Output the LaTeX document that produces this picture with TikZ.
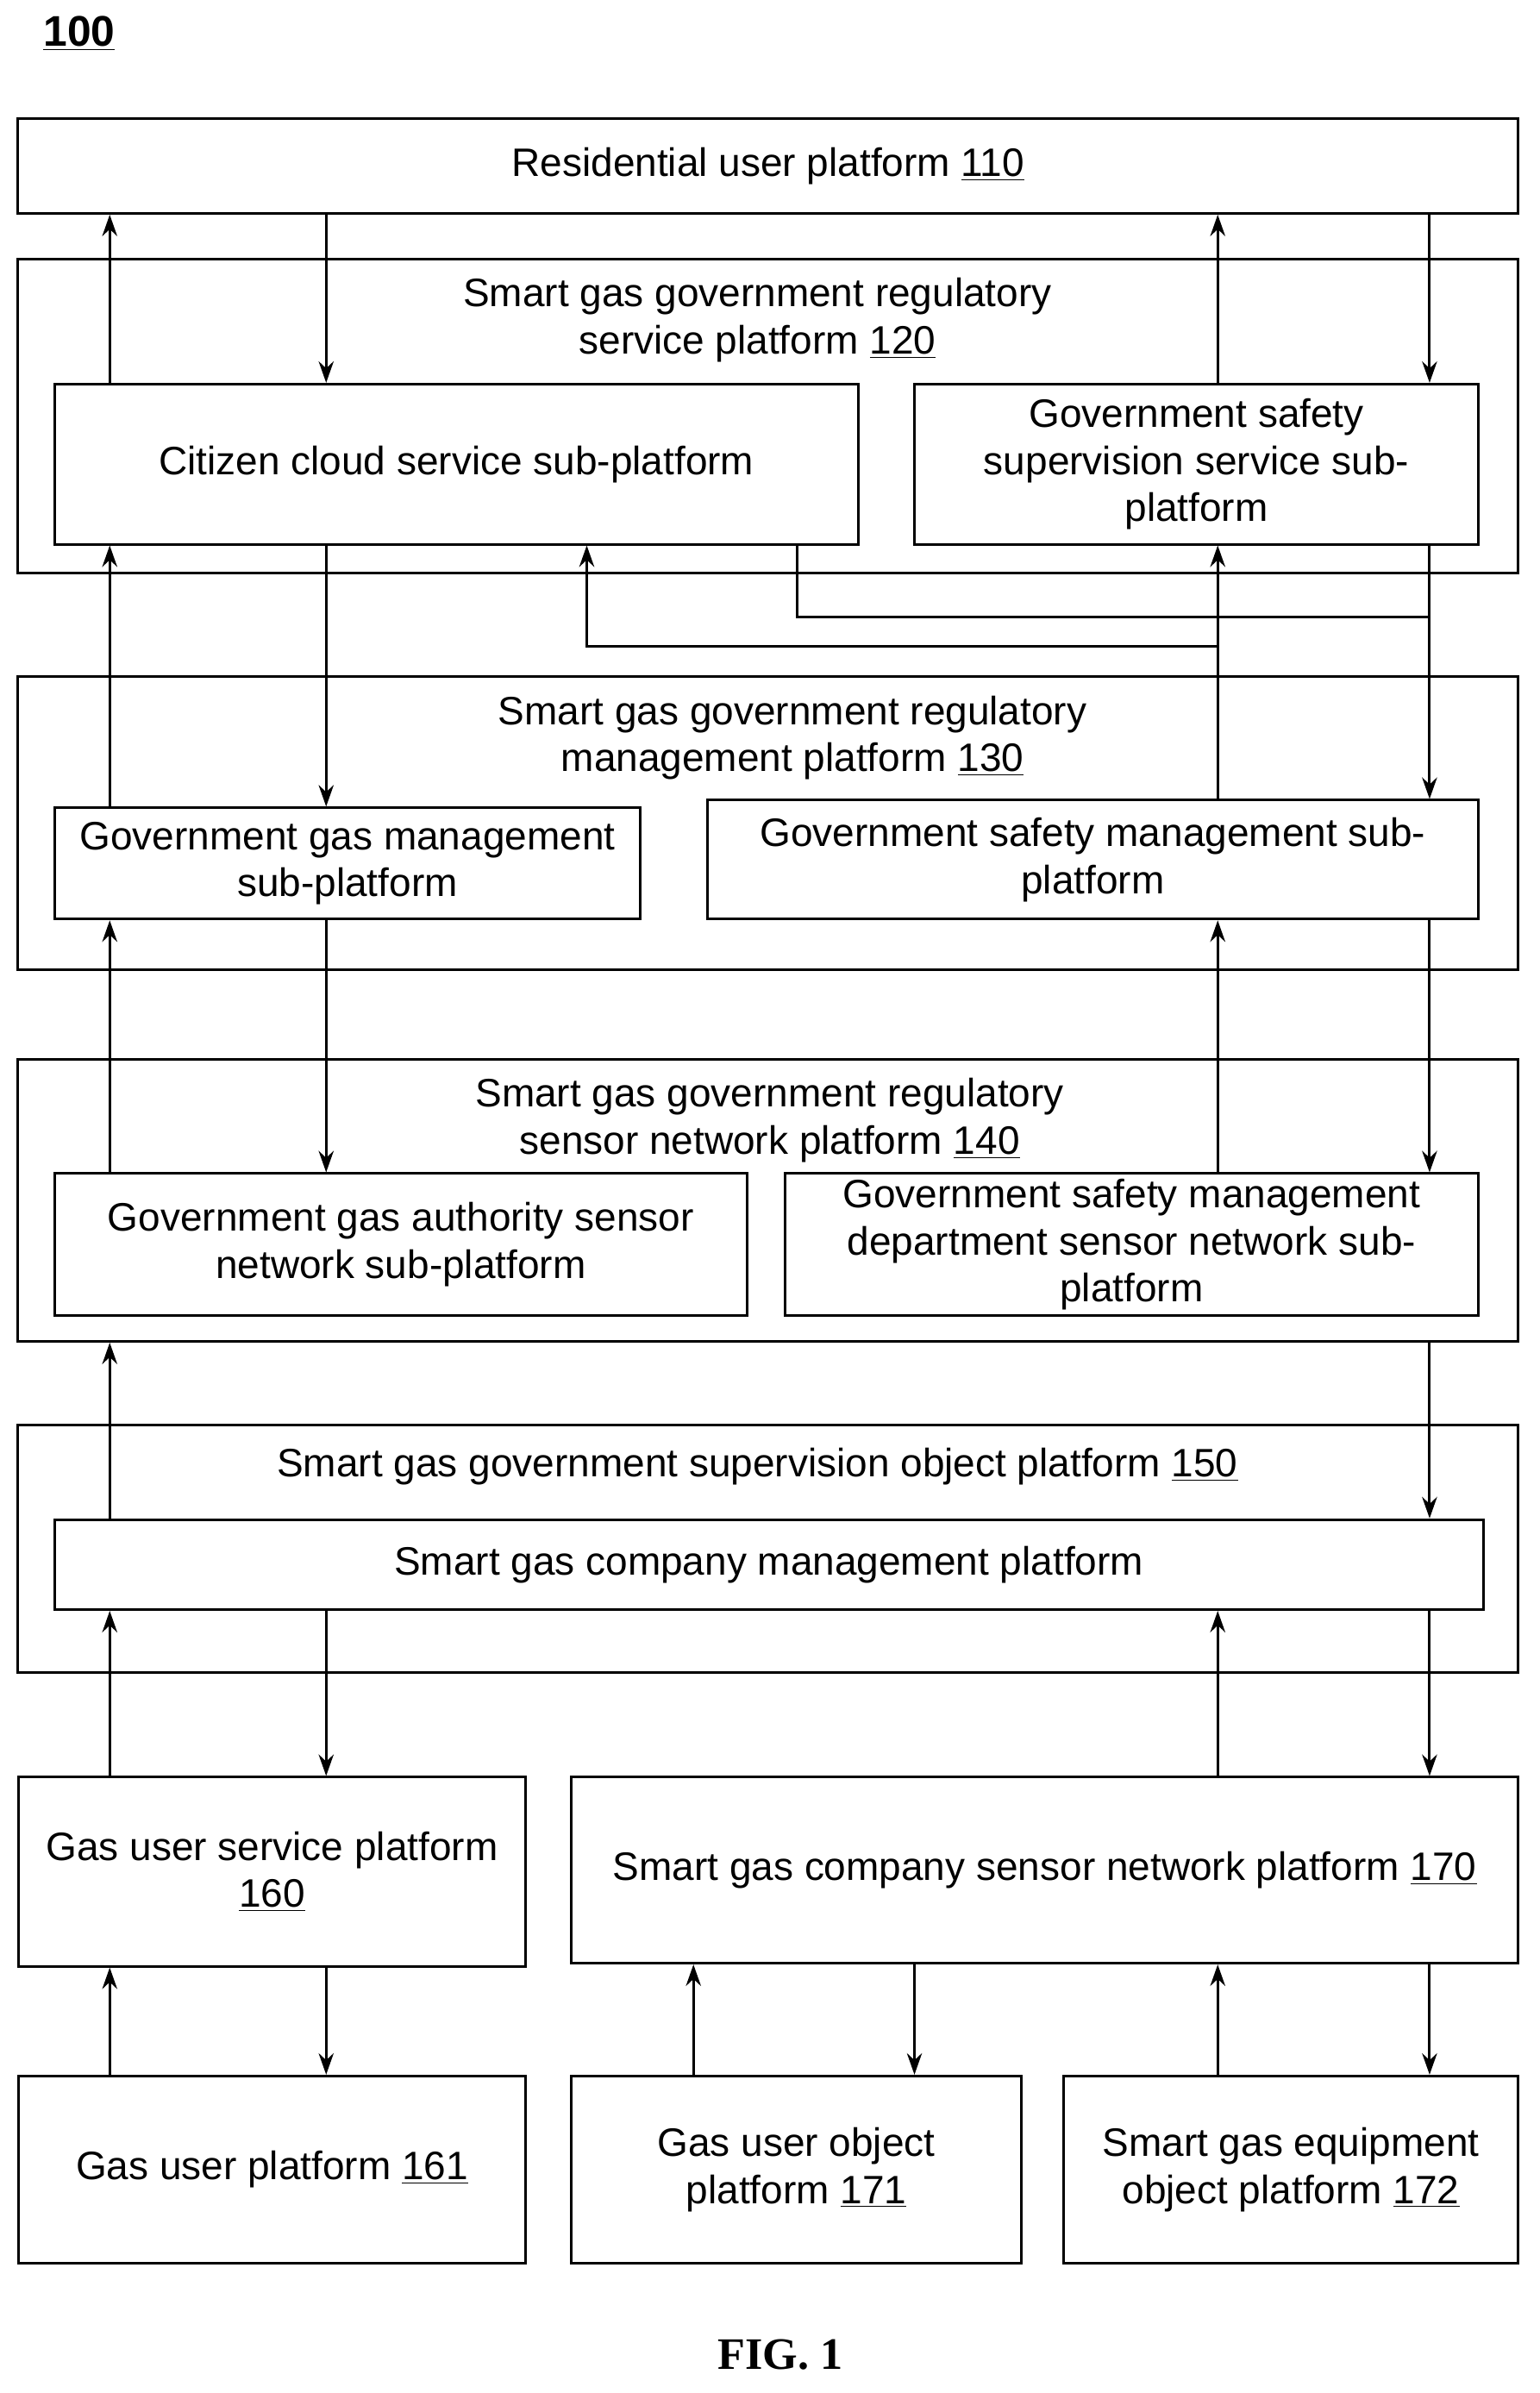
\documentclass[tikz,border=0pt]{standalone}
\usepackage{fontspec}
\setmainfont{Liberation Sans}
\usetikzlibrary{arrows.meta,calc,positioning}
\begin{document}
\begin{tikzpicture}[x=0.025cm,y=-0.025cm,>={Stealth[length=10pt,width=7pt]},
  font=\fontsize{18.5}{22}\selectfont,
  box/.style={draw,line width=1.2pt,align=center,inner sep=0pt},
  flow/.style={->,line width=1.2pt}]
  \useasboundingbox (0,0) rectangle (1010,1570);

  \node[font=\fontsize{20}{22}\selectfont\bfseries] (fignum) at (52,22) {\underline{100}};

  % platforms and sub-platforms
  \node[box,minimum width=24.6cm,minimum height=1.55cm] (p110) at (504,109) {Residential user platform \underline{110}};
  \node[box,minimum width=24.6cm,minimum height=5.15cm] (p120) at (504,273) {};
  \node (t120) at (497,210) [align=center] {Smart gas government regulatory\\service platform \underline{120}};
  \node[box,minimum width=13.175cm,minimum height=2.625cm] (citizen) at (299.5,304.5) {Citizen cloud service sub-platform};
  \node[box,minimum width=9.25cm,minimum height=2.625cm] (safesup) at (785,304.5) {Government safety\\supervision service sub-\\platform};

  \node[box,minimum width=24.6cm,minimum height=4.8cm] (p130) at (504,540) {};
  \node (t130) at (520,484) [align=center] {Smart gas government regulatory\\management platform \underline{130}};
  \node[box,minimum width=9.6cm,minimum height=1.825cm] (gasmgmt) at (228,566.5) {Government gas management\\sub-platform};
  \node[box,minimum width=12.65cm,minimum height=1.95cm] (safemgmt) at (717,564) {Government safety management sub-\\platform};

  \node[box,minimum width=24.6cm,minimum height=4.625cm] (p140) at (504,787.5) {};
  \node (t140) at (505,735) [align=center] {Smart gas government regulatory\\sensor network platform \underline{140}};
  \node[box,minimum width=11.35cm,minimum height=2.325cm] (gasauth) at (263,816.5) {Government gas authority sensor\\network sub-platform};
  \node[box,minimum width=11.375cm,minimum height=2.325cm] (safedept) at (742.5,816.5) {Government safety management\\department sensor network sub-\\platform};

  \node[box,minimum width=24.6cm,minimum height=4.05cm] (p150) at (504,1016) {};
  \node (t150) at (497,962) {Smart gas government supervision object platform \underline{150}};
  \node[box,minimum width=23.425cm,minimum height=1.475cm] (company) at (504.5,1026.5) {Smart gas company management platform};

  \node[box,minimum width=8.325cm,minimum height=3.1cm] (p160) at (178.5,1228) {Gas user service platform\\\underline{160}};
  \node[box,minimum width=15.525cm,minimum height=3.05cm] (p170) at (685.5,1227) {Smart gas company sensor network platform \underline{170}};
  \node[box,minimum width=8.325cm,minimum height=3.075cm] (p161) at (178.5,1423.5) {Gas user platform \underline{161}};
  \node[box,minimum width=7.375cm,minimum height=3.075cm] (p171) at (522.5,1423.5) {Gas user object\\platform \underline{171}};
  \node[box,minimum width=7.45cm,minimum height=3.075cm] (p172) at (847,1423.5) {Smart gas equipment\\object platform \underline{172}};

  \node (fig) at (512,1545) {\fontspec{Liberation Serif}\bfseries\fontsize{21}{24}\selectfont FIG. 1};

  % connectors
  \draw[flow] (citizen.north -| 72,0) -- (p110.south -| 72,0);
  \draw[flow] (p110.south -| 214,0) -- (citizen.north -| 214,0);
  \draw[flow] (safesup.north -| 799,0) -- (p110.south -| 799,0);
  \draw[flow] (p110.south -| 938,0) -- (safesup.north -| 938,0);

  \draw[flow] (gasmgmt.north -| 72,0) -- (citizen.south -| 72,0);
  \draw[flow] (citizen.south -| 214,0) -- (gasmgmt.north -| 214,0);
  \draw[flow] (safemgmt.north -| 799,0) -- (safesup.south -| 799,0);
  \draw[flow] (safesup.south -| 938,0) -- (safemgmt.north -| 938,0);
  \draw[line width=1.2pt] (citizen.south -| 523,0) |- (938,405);
  \draw[flow] (799,424) -| (citizen.south -| 385,0);

  \draw[flow] (gasauth.north -| 72,0) -- (gasmgmt.south -| 72,0);
  \draw[flow] (gasmgmt.south -| 214,0) -- (gasauth.north -| 214,0);
  \draw[flow] (safedept.north -| 799,0) -- (safemgmt.south -| 799,0);
  \draw[flow] (safemgmt.south -| 938,0) -- (safedept.north -| 938,0);

  \draw[flow] (company.north -| 72,0) -- (p140.south -| 72,0);
  \draw[flow] (p140.south -| 938,0) -- (company.north -| 938,0);

  \draw[flow] (p160.north -| 72,0) -- (company.south -| 72,0);
  \draw[flow] (company.south -| 214,0) -- (p160.north -| 214,0);
  \draw[flow] (p170.north -| 799,0) -- (company.south -| 799,0);
  \draw[flow] (company.south -| 938,0) -- (p170.north -| 938,0);

  \draw[flow] (p161.north -| 72,0) -- (p160.south -| 72,0);
  \draw[flow] (p160.south -| 214,0) -- (p161.north -| 214,0);
  \draw[flow] (p171.north -| 455,0) -- (p170.south -| 455,0);
  \draw[flow] (p170.south -| 600,0) -- (p171.north -| 600,0);
  \draw[flow] (p172.north -| 799,0) -- (p170.south -| 799,0);
  \draw[flow] (p170.south -| 938,0) -- (p172.north -| 938,0);
\end{tikzpicture}
\end{document}
